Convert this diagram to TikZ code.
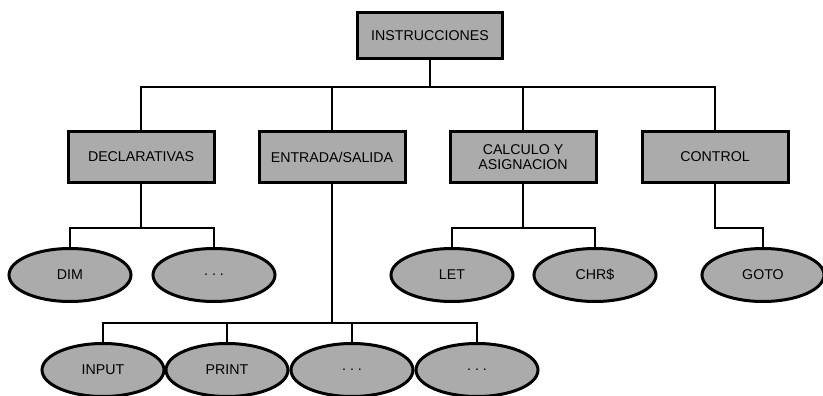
\documentclass[tikz,border=0pt]{standalone}
\usepackage{fontspec}
\setmainfont{Liberation Sans}
\usetikzlibrary{shapes.geometric}
\definecolor{panelgray}{gray}{0.67}
\tikzset{
  catbox/.style={draw=black, line width=3pt, fill=panelgray, rectangle,
    minimum width=146pt, minimum height=50pt, inner sep=2pt, align=center,
    font=\fontsize{14.2}{15}\selectfont},
  rootbox/.style={catbox, minimum width=145pt, minimum height=46pt},
  stmt/.style={draw=black, line width=3pt, fill=panelgray, ellipse,
    minimum width=122pt, minimum height=53pt, inner sep=0pt,
    font=\fontsize{14.2}{15}\selectfont},
  link/.style={draw=black, line width=1.6pt}
}
\newcommand{\moredots}{.\hspace{4pt}.\hspace{4pt}.}
\begin{document}
\begin{tikzpicture}[x=1pt,y=-1pt]
\useasboundingbox (0,0) rectangle (823,396);
% root
\node[rootbox] (root) at (430,36) {INSTRUCCIONES};
% categories
\node[catbox] (decl) at (141,157) {DECLARATIVAS};
\node[catbox] (es)   at (332,157) {ENTRADA/SALIDA};
\node[catbox] (calc) at (523,157) {CALCULO Y\\ASIGNACION};
\node[catbox] (ctrl) at (715,157) {CONTROL};
% statements
\node[stmt] (dim)   at (70,275)  {DIM};
\node[stmt] (dmore) at (214,275) {\moredots};
\node[stmt] (let)   at (452,275) {LET};
\node[stmt] (chr)   at (595,275) {CHR\$};
\node[stmt] (goto)  at (763,275) {GOTO};
\node[stmt] (inp)   at (103,370) {INPUT};
\node[stmt] (prt)   at (227,370) {PRINT};
\node[stmt] (emore) at (352,370) {\moredots};
\node[stmt] (fmore) at (477,370) {\moredots};
% bus levels
\coordinate (b1) at (0,87);
\coordinate (b2) at (0,228);
\coordinate (b3) at (0,323);
% root to categories
\draw[link] (root.south) -- (root.south |- b1);
\draw[link] (decl.north) -- (decl.north |- b1) -- (ctrl.north |- b1) -- (ctrl.north);
\draw[link] (es.north) -- (es.north |- b1);
\draw[link] (calc.north) -- (calc.north |- b1);
% declarativas
\draw[link] (decl.south) -- (decl.south |- b2);
\draw[link] (dim.north) -- (dim.north |- b2) -- (dmore.north |- b2) -- (dmore.north);
% calculo
\draw[link] (calc.south) -- (calc.south |- b2);
\draw[link] (let.north) -- (let.north |- b2) -- (chr.north |- b2) -- (chr.north);
% control
\draw[link] (ctrl.south) -- (ctrl.south |- b2) -- (goto.north |- b2) -- (goto.north);
% entrada/salida
\draw[link] (es.south) -- (es.south |- b3);
\draw[link] (inp.north) -- (inp.north |- b3) -- (fmore.north |- b3) -- (fmore.north);
\draw[link] (prt.north) -- (prt.north |- b3);
\draw[link] (emore.north) -- (emore.north |- b3);
\end{tikzpicture}
\end{document}
